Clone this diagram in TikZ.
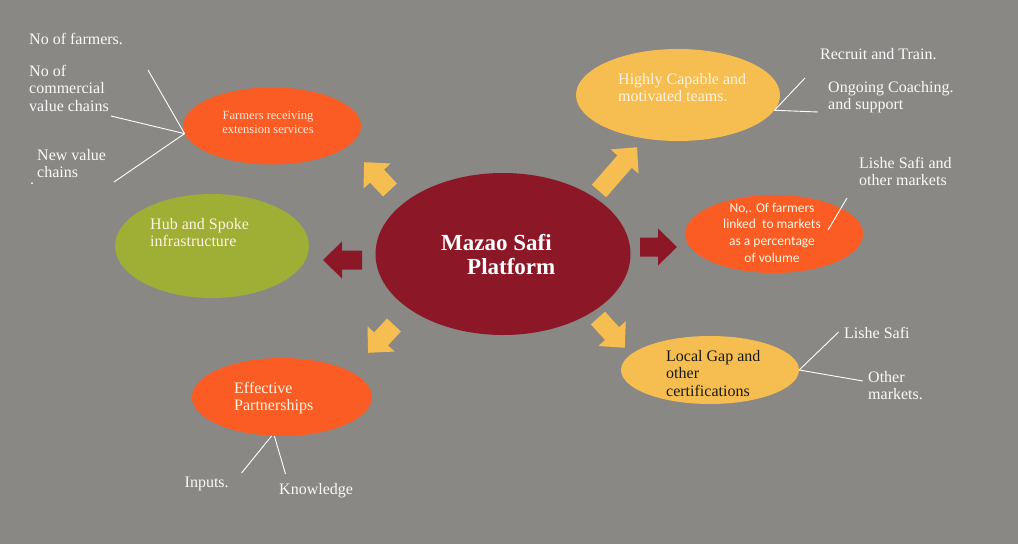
\documentclass[tikz,border=0pt]{standalone}
\usepackage{fontspec}
\setmainfont{Liberation Serif}
\newfontfamily\calib{Carlito}
\usetikzlibrary{shapes.geometric}
\definecolor{bg}{RGB}{138,136,133}
\definecolor{mred}{RGB}{139,23,39}
\definecolor{morange}{RGB}{250,92,35}
\definecolor{myellow}{RGB}{246,190,80}
\definecolor{mgreen}{RGB}{159,174,52}
\definecolor{cream}{RGB}{255,244,224}
\definecolor{pinkw}{RGB}{255,232,218}
\definecolor{lblw}{RGB}{250,250,250}
\newcommand\stk[2]{\begin{tabular}[t]{@{}#1@{}}#2\end{tabular}}
\tikzset{
  barrow/.pic={\path[pic actions] (0,-9.5) -- (#1-19,-9.5) -- (#1-19,-18.5) -- (#1,0) -- (#1-19,18.5) -- (#1-19,9.5) -- (0,9.5) -- cycle;},
  blob/.style={ellipse, inner sep=0pt, draw=none},
  lbl/.style={inner sep=0pt, anchor=base west, text=lblw, font=\fontsize{16}{17.5}\selectfont},
  wire/.style={draw=white, line width=0.9pt},
}
\begin{document}
\begin{tikzpicture}[x=1pt,y=-1pt]
\fill[bg] (0,0) rectangle (1018,544);
\useasboundingbox (0,0) rectangle (1018,544);
% ellipses
\node[blob, fill=morange, minimum width=178pt, minimum height=77pt] (farm) at (272,126) {};
\node[blob, fill=myellow, minimum width=204pt, minimum height=92pt] (hc) at (678,95) {};
\node[blob, fill=mgreen, minimum width=194pt, minimum height=104pt] (hub) at (212,246) {};
\node[blob, fill=mred, minimum width=255pt, minimum height=162pt] (mz) at (503,254) {};
\node[blob, fill=morange, minimum width=178pt, minimum height=78pt] (nf) at (774,234) {};
\node[blob, fill=morange, minimum width=180pt, minimum height=78pt] (ep) at (282,397) {};
\node[blob, fill=myellow, minimum width=178pt, minimum height=68pt] (lg) at (710,370) {};
% block arrows
\pic[fill=myellow, rotate=49] at (599,191) {barrow=58};
\pic[fill=myellow, rotate=133] at (390,190) {barrow=38};
\pic[fill=mred, rotate=0] at (640,247) {barrow=37};
\pic[fill=mred, rotate=180] at (362,260) {barrow=39};
\pic[fill=myellow, rotate=227] at (394,325) {barrow=38};
\pic[fill=myellow, rotate=-48] at (598,318) {barrow=40};
% texts
\node[lbl] (t1) at (29,44) {No of farmers.};
\node[lbl] (t2) at (29,76) {\stk{l}{No of\\commercial\\value chains}};
\node[lbl] (t3) at (37,160) {\stk{l}{New value\\chains}};
\node[lbl] (t3b) at (30,184) {.};
\node[lbl, anchor=base, text=pinkw, font=\fontsize{12.5}{14}\selectfont] (t4) at (268,119) {\stk{c}{Farmers receiving\\extension services}};
\node[lbl, text=cream] (t5) at (618,84) {\stk{l}{Highly Capable and\\motivated teams.}};
\node[lbl] (t6) at (820,59) {Recruit and Train.};
\node[lbl] (t7) at (828,92) {\stk{l}{Ongoing Coaching.\\and support}};
\node[lbl] (t8) at (859,168) {\stk{l}{Lishe Safi and\\other markets}};
\node[lbl, anchor=base, text=cream, font=\calib\fontsize{13.5}{16.7}\selectfont] (t9) at (772,212) {\stk{c}{No,. Of farmers\\linked\ \ to markets\\as a percentage\\of volume}};
\node[lbl, text=cream] (t10) at (150,229) {\stk{l}{Hub and Spoke\\infrastructure}};
\node[lbl, text=white, font=\bfseries\fontsize{23}{24}\selectfont] (t11) at (441,250) {\stk{l}{Mazao Safi\\\hspace*{26pt}Platform}};
\node[lbl, text=cream] (t12) at (234,393) {\stk{l}{Effective\\Partnerships}};
\node[lbl, text=black!90] (t13) at (666,361) {\stk{l}{Local Gap and\\other\\certifications}};
\node[lbl] (t14) at (844,338) {Lishe Safi};
\node[lbl] (t15) at (868,382) {\stk{l}{Other\\markets.}};
\node[lbl] (t16) at (184.5,487) {Inputs.};
\node[lbl] (t17) at (279,494) {Knowledge};
% connector ends
\coordinate (a1) at (148,70);
\coordinate (a2) at (111,116);
\coordinate (a3) at (114,182);
\coordinate (b1) at (805,78);
\coordinate (b2) at (818,112);
\coordinate (c1) at (828,230);
\coordinate (c2) at (847,198);
\coordinate (d1) at (838.6,332);
\coordinate (d2) at (863,381);
\coordinate (e1) at (241.6,473);
\coordinate (e2) at (285.5,474);
% connectors
\draw[wire] (farm.185) -- (a1);
\draw[wire] (farm.185) -- (a2);
\draw[wire] (farm.185) -- (a3);
\draw[wire] (hc.-9) -- (b1);
\draw[wire] (hc.-9) -- (b2);
\draw[wire] (c1) -- (c2);
\draw[wire] (lg.east) -- (d1);
\draw[wire] (lg.east) -- (d2);
\draw[wire] (ep.255) -- (e1);
\draw[wire] (ep.259) -- (e2);
\end{tikzpicture}
\end{document}
